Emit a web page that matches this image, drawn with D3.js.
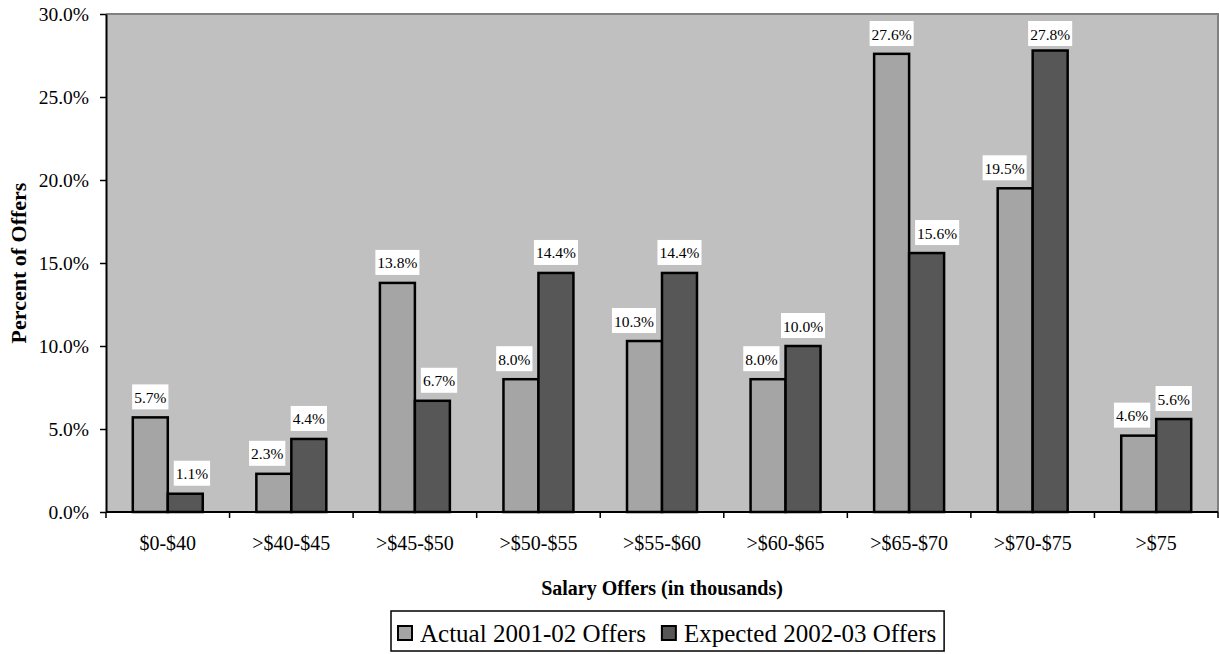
<!DOCTYPE html>
<html>
<head>
<meta charset="utf-8">
<script src="https://cdn.jsdelivr.net/npm/d3@7"></script>
<style>
  html, body { margin: 0; padding: 0; background: #ffffff; }
  svg { display: block; font-family: "Liberation Serif", "Times New Roman", serif; }
</style>
</head>
<body>
<svg id="chart" width="1219" height="654"></svg>
<script>
// Salary offer distribution, two survey years
const categories = ["$0-$40", ">$40-$45", ">$45-$50", ">$50-$55", ">$55-$60", ">$60-$65", ">$65-$70", ">$70-$75", ">$75"];
const seriesNames = ["Actual 2001-02 Offers", "Expected 2002-03 Offers"];
const actualOffers = [5.7, 2.3, 13.8, 8.0, 10.3, 8.0, 27.6, 19.5, 4.6];
const expectedOffers = [1.1, 4.4, 6.7, 14.4, 14.4, 10.0, 15.6, 27.8, 5.6];
const yTicks = [0, 5, 10, 15, 20, 25, 30];

const seriesValues = [actualOffers, expectedOffers];
const seriesFill = ["#a5a5a5", "#575757"];

const svg = d3.select("#chart");
const plot = { left: 106, right: 1218, top: 14, bottom: 512 };

const x = d3.scaleBand().domain(categories).range([plot.left, plot.right]).padding(0);
const x1 = d3.scaleBand().domain([0, 1]).range([0, x.bandwidth()]).paddingInner(0).paddingOuter(0.766);
const y = d3.scaleLinear().domain([0, 30]).range([plot.bottom, plot.top]);
const fmt = d => d.toFixed(1) + "%";

// plot area
svg.append("rect")
  .attr("x", plot.left).attr("y", plot.top)
  .attr("width", plot.right - plot.left).attr("height", plot.bottom - plot.top)
  .attr("fill", "#c0c0c0");
svg.append("path")
  .attr("d", `M${plot.left},${plot.top}H${plot.right}V${plot.bottom}`)
  .attr("fill", "none").attr("stroke", "#808080").attr("stroke-width", 2);

// bars
const rows = [];
categories.forEach((c, i) => {
  seriesValues.forEach((vals, s) => rows.push({ cat: c, s, v: vals[i], i }));
});

svg.append("g").selectAll("rect").data(rows).join("rect")
  .attr("x", d => x(d.cat) + x1(d.s))
  .attr("y", d => y(d.v))
  .attr("width", x1.bandwidth())
  .attr("height", d => y(0) - y(d.v))
  .attr("fill", d => seriesFill[d.s])
  .attr("stroke", "#000").attr("stroke-width", 2.5);

// y axis
const yAxis = d3.axisLeft(y).tickValues(yTicks).tickFormat(fmt).tickSize(6).tickSizeOuter(0);
const gy = svg.append("g").attr("transform", `translate(${plot.left},0)`).call(yAxis);
gy.select(".domain").attr("stroke", "#000").attr("stroke-width", 2);
gy.selectAll(".tick line").attr("stroke", "#000").attr("stroke-width", 1.5);
gy.selectAll(".tick text")
  .attr("x", -17).attr("dy", "0.34em")
  .attr("font-size", "19.5px").attr("fill", "#000")
  .attr("font-family", "Liberation Serif, Times New Roman, serif");

// x axis: ticks sit on category boundaries
const xAxisLine = svg.append("g");
xAxisLine.append("line")
  .attr("x1", plot.left).attr("x2", plot.right)
  .attr("y1", plot.bottom).attr("y2", plot.bottom)
  .attr("stroke", "#000").attr("stroke-width", 2);
const boundaries = categories.map(c => x(c)).concat([x(categories[categories.length - 1]) + x.bandwidth()]);
xAxisLine.selectAll("line.tk").data(boundaries).join("line").attr("class", "tk")
  .attr("x1", d => d).attr("x2", d => d)
  .attr("y1", plot.bottom).attr("y2", plot.bottom + 6)
  .attr("stroke", "#000").attr("stroke-width", 1.5);
xAxisLine.selectAll("text").data(categories).join("text")
  .attr("x", d => x(d) + x.bandwidth() / 2)
  .attr("y", 550)
  .attr("text-anchor", "middle")
  .attr("font-size", "20px")
  .text(d => d);

// axis titles
svg.append("text")
  .attr("x", (plot.left + plot.right) / 2).attr("y", 595)
  .attr("text-anchor", "middle").attr("font-weight", "bold").attr("font-size", "20px")
  .text("Salary Offers (in thousands)");
svg.append("text")
  .attr("transform", `translate(26,${(plot.top + plot.bottom) / 2}) rotate(-90)`)
  .attr("text-anchor", "middle").attr("font-weight", "bold").attr("font-size", "22px")
  .text("Percent of Offers");

// value labels on white boxes, nudged sideways when a neighbouring bar is in the way
const labelLayer = svg.append("g");
const labelGap = 8, padX = 2, boxH = 25, sideGap = 6;
rows.forEach(d => {
  const g = labelLayer.append("g");
  const t = g.append("text").attr("font-size", "15.5px").attr("text-anchor", "middle").text(fmt(d.v));
  const w = t.node().getComputedTextLength() + padX * 2;
  const barX = x(d.cat) + x1(d.s);
  let cx = barX + x1.bandwidth() / 2;
  let bottom = y(d.v) - labelGap;
  let top = bottom - boxH;
  if (top < plot.top + 7) { top = plot.top + 7; bottom = top + boxH; }
  const other = 1 - d.s;
  const oVal = seriesValues[other][d.i];
  const oX = x(d.cat) + x1(other);
  if (y(oVal) < bottom) {
    if (other === 1 && cx + w / 2 > oX) cx = oX - sideGap - w / 2;
    if (other === 0 && cx - w / 2 < oX + x1.bandwidth()) cx = oX + x1.bandwidth() + sideGap + w / 2;
  }
  g.insert("rect", "text")
    .attr("x", cx - w / 2).attr("y", top).attr("width", w).attr("height", boxH)
    .attr("fill", "#fff");
  t.attr("x", cx).attr("y", bottom - 6.5);
});

// legend
const legend = svg.append("g");
const lgTop = 611, lgH = 40;
const items = legend.selectAll("g").data(seriesNames).join("g");
let cursor = 398;
items.each(function (name, s) {
  const g = d3.select(this);
  g.append("rect")
    .attr("x", cursor).attr("y", lgTop + 15).attr("width", 14).attr("height", 14)
    .attr("fill", seriesFill[s]).attr("stroke", "#000").attr("stroke-width", 2);
  const t = g.append("text").attr("x", cursor + 22).attr("y", lgTop + 31)
    .attr("font-size", "25px").text(name);
  cursor += 22 + t.node().getComputedTextLength() + 16;
});
legend.insert("rect", "g")
  .attr("x", 391).attr("y", lgTop)
  .attr("width", cursor - 16 + 8 - 391).attr("height", lgH)
  .attr("fill", "#fff").attr("stroke", "#000").attr("stroke-width", 1.5);
</script>
</body>
</html>
